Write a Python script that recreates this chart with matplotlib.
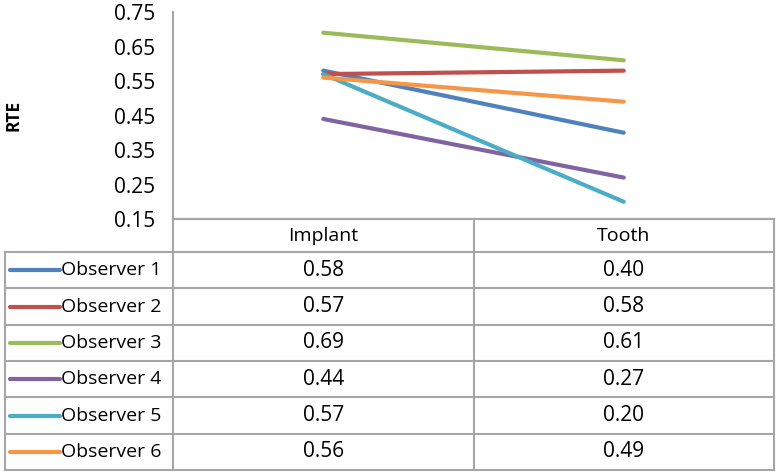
import matplotlib.pyplot as plt

# data
categories = ['Implant', 'Tooth']
observers = ['Observer 1', 'Observer 2', 'Observer 3', 'Observer 4', 'Observer 5', 'Observer 6']
implant = [0.58, 0.57, 0.69, 0.44, 0.57, 0.56]
tooth = [0.40, 0.58, 0.61, 0.27, 0.20, 0.49]
colors = ['#4F81BD', '#C0504D', '#9BBB59', '#8064A2', '#4BACC6', '#F79646']
yticks = [0.15, 0.25, 0.35, 0.45, 0.55, 0.65, 0.75]

plt.rcParams['font.family'] = ['Open Sans', 'DejaVu Sans']
W, H = 778, 473
fig = plt.figure(figsize=(W / 100, H / 100), dpi=100)

grid_col = '#A6A6A6'

# main line chart, pixel box: x 173..774, y 12..219
ax = fig.add_axes([173 / W, 1 - 219 / H, (774 - 173) / W, (219 - 12) / H])
xs = list(range(len(categories)))
for name, a, b, c in zip(observers, implant, tooth, colors):
    ax.plot(xs, [a, b], color=c, lw=3, solid_capstyle='round')
ax.set_xlim(-0.5, 1.5)
ax.set_ylim(0.15, 0.75)
ax.set_yticks(yticks)
ax.set_yticklabels([f'{t:.2f}' for t in yticks], fontsize=15)
ax.tick_params(axis='y', length=0, pad=13)
ax.set_xticks([])
for s in ['top', 'right']:
    ax.spines[s].set_visible(False)
for s in ['left', 'bottom']:
    ax.spines[s].set_color(grid_col)
    ax.spines[s].set_linewidth(1.5)
ax.patch.set_alpha(0)

fig.text(14 / W, 1 - 115 / H, 'RTE', rotation=90, fontsize=12.5, fontweight='bold',
         ha='center', va='center')

# data table below, sharing the chart's x scale
left_edge = -0.5 - (173 - 5) / 300.5
tab = fig.add_axes([5 / W, 1 - 470 / H, (774 - 5) / W, (470 - 219) / H])
hdr = 33 / 36.3
nrows = len(observers)
tab.set_xlim(left_edge, 1.5)
tab.set_ylim(hdr + nrows, 0)
tab.axis('off')

kw = dict(color=grid_col, lw=1.5, clip_on=False)
tab.plot([-0.5, 1.5], [0, 0], **kw)
for i in range(nrows + 1):
    tab.plot([left_edge, 1.5], [hdr + i, hdr + i], **kw)
tab.plot([left_edge, left_edge], [hdr, hdr + nrows], **kw)
for x in [-0.5, 0.5, 1.5]:
    tab.plot([x, x], [0, hdr + nrows], **kw)

for j, cat in enumerate(categories):
    tab.text(xs[j], hdr / 2, cat, ha='center', va='center', fontsize=14)

for i, (name, a, b, c) in enumerate(zip(observers, implant, tooth, colors)):
    yc = hdr + i + 0.5
    tab.plot([left_edge + 5 / 300.5, left_edge + 55 / 300.5], [yc, yc], color=c, lw=3,
             solid_capstyle='round')
    tab.text(left_edge + 56 / 300.5, yc, name, ha='left', va='center', fontsize=14)
    tab.text(xs[0], yc, f'{a:.2f}', ha='center', va='center', fontsize=15)
    tab.text(xs[1], yc, f'{b:.2f}', ha='center', va='center', fontsize=15)

fig.savefig('out.png', dpi=100)
